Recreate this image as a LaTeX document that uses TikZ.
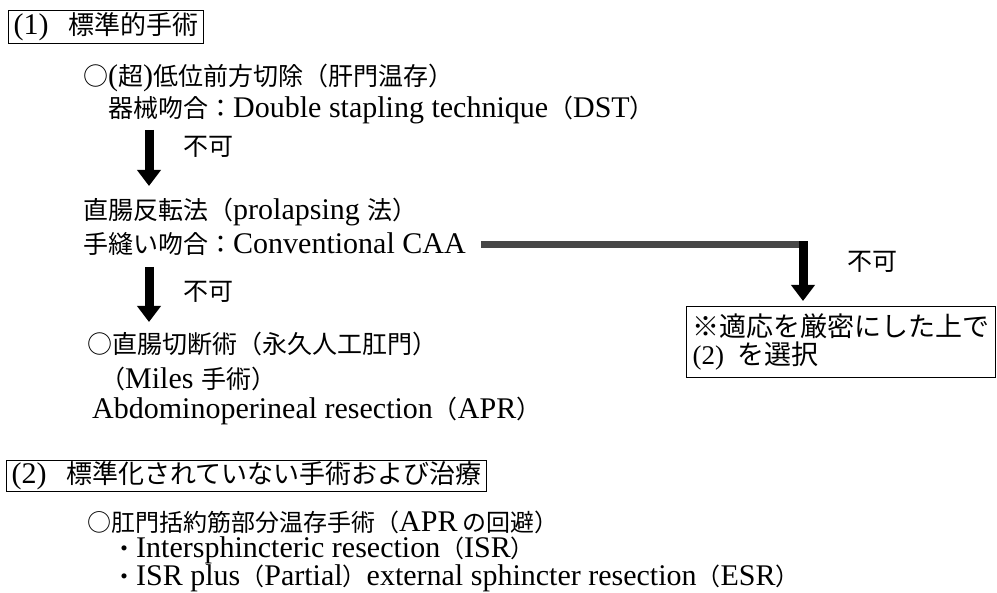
\documentclass[tikz,border=0pt]{standalone}
\usepackage{fontspec}
\setmainfont{Liberation Serif}
\newfontfamily\cjk{Noto Sans CJK JP}
\usetikzlibrary{arrows.meta}
\newcommand\cs{25}
\newcommand\J[1]{{\cjk\fontsize{\cs}{\cs}\selectfont #1}}
\tikzset{
  txt/.style={anchor=base west, inner sep=0pt, font=\fontsize{30}{32}\selectfont},
  txttwo/.style={anchor=base west, inner sep=0pt, font=\fontsize{30}{32}\selectfont\renewcommand\cs{24}},
  titlebox/.style={draw, line width=1.2pt, anchor=north west, inner xsep=5pt, inner ysep=0pt,
    font=\fontsize{30}{32}\selectfont\renewcommand\cs{26}},
  bigarrow/.style={line width=9pt, -{Triangle[width=23pt,length=16pt]}},
  graybar/.style={line width=7pt, black!72},
}
\begin{document}
\begin{tikzpicture}[x=1pt,y=-1pt]
\useasboundingbox (0,0) rectangle (997,593);
% section (1)
\node[titlebox, minimum height=33pt] (t1box) at (8,10) {(1)\hspace{20pt}\J{標準的手術}};
\node[txt] (L1) at (83,86) {\J{○}(\J{超})\J{低位前方切除（肝門温存）}};
\node[txt] (L2) at (108,118) {\J{器械吻合：}Double stapling technique\J{（}DST\J{）}};
\node[txt] (n1) at (183,156) {\J{不可}};
\node[txt] (L3) at (83,219.5) {\J{直腸反転法（}prolapsing \J{法）}};
\node[txt] (L4) at (83,254) {\J{手縫い吻合：}Conventional CAA};
\node[txt] (nr) at (847,271) {\J{不可}};
\node[txt] (n2) at (183,301) {\J{不可}};
\node[draw, line width=1.2pt, anchor=north west, inner xsep=5pt, inner ysep=3pt,
      minimum width=309pt, minimum height=71pt, align=left,
      font=\fontsize{27}{28}\selectfont\renewcommand\cs{27}] (rbox) at (686,306)
  {\J{※適応を厳密にした上で}\\(2)\hspace{13pt}\J{を選択}};
\node[txt] (L5) at (87,354) {\J{○直腸切断術（永久人工肛門）}};
\node[txt] (L6) at (100,389) {\J{（}Miles \J{手術）}};
\node[txt] (L7) at (92,419) {Abdominoperineal resection\J{（}APR\J{）}};
% section (2)
\node[titlebox, minimum height=31pt] (t2box) at (6,460) {(2)\hspace{20pt}\J{標準化されていない手術および治療}};
\node[txttwo] (L8) at (87,532) {\J{○肛門括約筋部分温存手術（}APR\,\J{の回避）}};
\node[txttwo] (L9) at (112,558) {\J{・}Intersphincteric resection\J{（}ISR\J{）}};
\node[txttwo] (L10) at (112,586) {\J{・}ISR plus\J{（}Partial\J{）}external sphincter resection\J{（}ESR\J{）}};
% connectors
\coordinate (a1s) at (149,130);
\coordinate (a1e) at (149,186);
\coordinate (a2s) at (149,267);
\coordinate (a2e) at (149,322);
\coordinate (bs) at (481,245);
\coordinate (bc) at (807.5,245);
\coordinate (vs) at (803,241.5);
\coordinate (ve) at (803,301);
\draw[bigarrow] (a1s) -- (a1e);
\draw[bigarrow] (a2s) -- (a2e);
\draw[graybar] (bs) -- (bc);
\draw[bigarrow] (vs) -- (ve);
\end{tikzpicture}
\end{document}
